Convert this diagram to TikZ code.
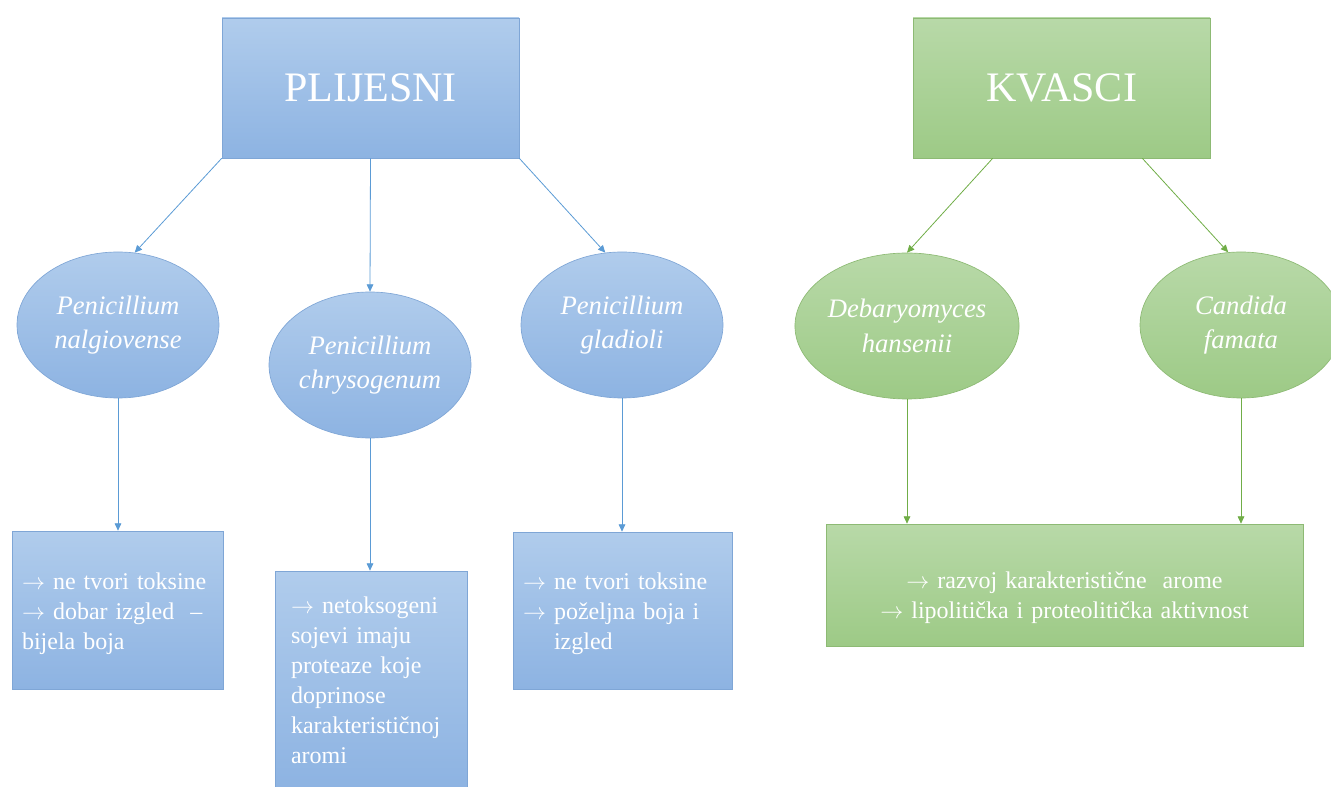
\documentclass[tikz,border=0pt]{standalone}
\usepackage{fontspec}
\setmainfont{Liberation Serif}
\usetikzlibrary{shapes.geometric}
\usetikzlibrary{arrows.meta}

\definecolor{plavaG}{HTML}{B0CCEC}
\definecolor{plavaD}{HTML}{8DB3E2}
\definecolor{plavaRub}{HTML}{7FA6D6}
\definecolor{plavaStr}{HTML}{5B9BD5}
\definecolor{zelenaG}{HTML}{B8D9A8}
\definecolor{zelenaD}{HTML}{9DCA86}
\definecolor{zelenaRub}{HTML}{8DBA74}
\definecolor{zelenaStr}{HTML}{70AD47}

\newcommand{\strel}{$\rightarrow$}

\tikzset{
    plavi/.style={draw=plavaRub, line width=0.5pt, top color=plavaG, bottom color=plavaD, text=white},
    zeleni/.style={draw=zelenaRub, line width=0.5pt, top color=zelenaG, bottom color=zelenaD, text=white},
    naslov/.style={rectangle, minimum width=222.75pt, minimum height=105pt, font=\fontsize{31.5}{36}\selectfont},
    vrsta/.style={ellipse, minimum width=151.5pt, minimum height=109.5pt, inner sep=0pt, align=center, font=\fontsize{20}{26}\selectfont\itshape},
    opis/.style={rectangle, inner xsep=7.5pt, align=left, font=\fontsize{18}{22.5}\selectfont},
    strelica/.style={-{Triangle[length=5.5pt,width=5pt]}, line width=0.6pt}
}

\begin{document}
\begin{tikzpicture}[x=0.75pt, y=-0.75pt]
    \useasboundingbox (0,0) rectangle (1331,787);
    \clip (0,0) rectangle (1331,787);
    \node[naslov, plavi] (plij) at (370.5,88) {PLIJESNI};
    \node[naslov, zeleni] (kvas) at (1061.5,88) {KVASCI};
    \node[vrsta, plavi] (nalg) at (118,325) {Penicillium\\nalgiovense};
    \node[vrsta, plavi] (chry) at (370,365) {Penicillium\\chrysogenum};
    \node[vrsta, plavi] (glad) at (622,325) {Penicillium\\gladioli};
    \node[vrsta, zeleni] (deba) at (907,326) {Debaryomyces\\hansenii};
    \node[vrsta, zeleni] (cand) at (1241,325) {Candida\\famata};
    \node[opis, plavi, text width=143.25pt, minimum height=118.5pt] (opis1) at (117.5,610)
        {\rule{0pt}{0pt}\\[-5pt]\strel{} ne tvori toksine\\\strel{} dobar izgled \ –\\bijela boja};
    \node[opis, plavi, inner xsep=12pt, text width=120pt, minimum height=163.5pt] (opis2) at (371,680)
        {\strel{} netoksogeni\\sojevi imaju\\proteaze koje\\doprinose\\karakterističnoj\\aromi};
    \node[opis, plavi, text width=149.25pt, minimum height=117.75pt] (opis3) at (622.5,610.5)
        {\rule{0pt}{0pt}\\[-5pt]\strel{} ne tvori toksine\\\strel{} poželjna boja i\\\phantom{\strel{} }izgled};
    \node[opis, zeleni, align=center, text width=342.75pt, minimum height=91.5pt] (opis4) at (1064.5,585)
        {\rule{0pt}{0pt}\\[9pt]\strel{} razvoj karakteristične \ arome\\\strel{} lipolitička i proteolitička aktivnost};
    \draw[strelica, plavaStr] (plij.south west) -- (nalg.77);
    \draw[strelica, plavaStr] (plij.south) -- (chry.north);
    \draw[strelica, plavaStr] (plij.south east) -- (glad.103);
    \draw[strelica, zelenaStr] ([xshift=60pt]kvas.south west) -- (deba.north);
    \draw[strelica, zelenaStr] ([xshift=-51pt]kvas.south east) -- (cand.100);
    \draw[strelica, plavaStr] (nalg.south) -- (nalg.south |- opis1.north);
    \draw[strelica, plavaStr] (chry.south) -- (chry.south |- opis2.north);
    \draw[strelica, plavaStr] (glad.south) -- (glad.south |- opis3.north);
    \draw[strelica, zelenaStr] (deba.south) -- (deba.south |- opis4.north);
    \draw[strelica, zelenaStr] (cand.south) -- (cand.south |- opis4.north);
\end{tikzpicture}
\end{document}
